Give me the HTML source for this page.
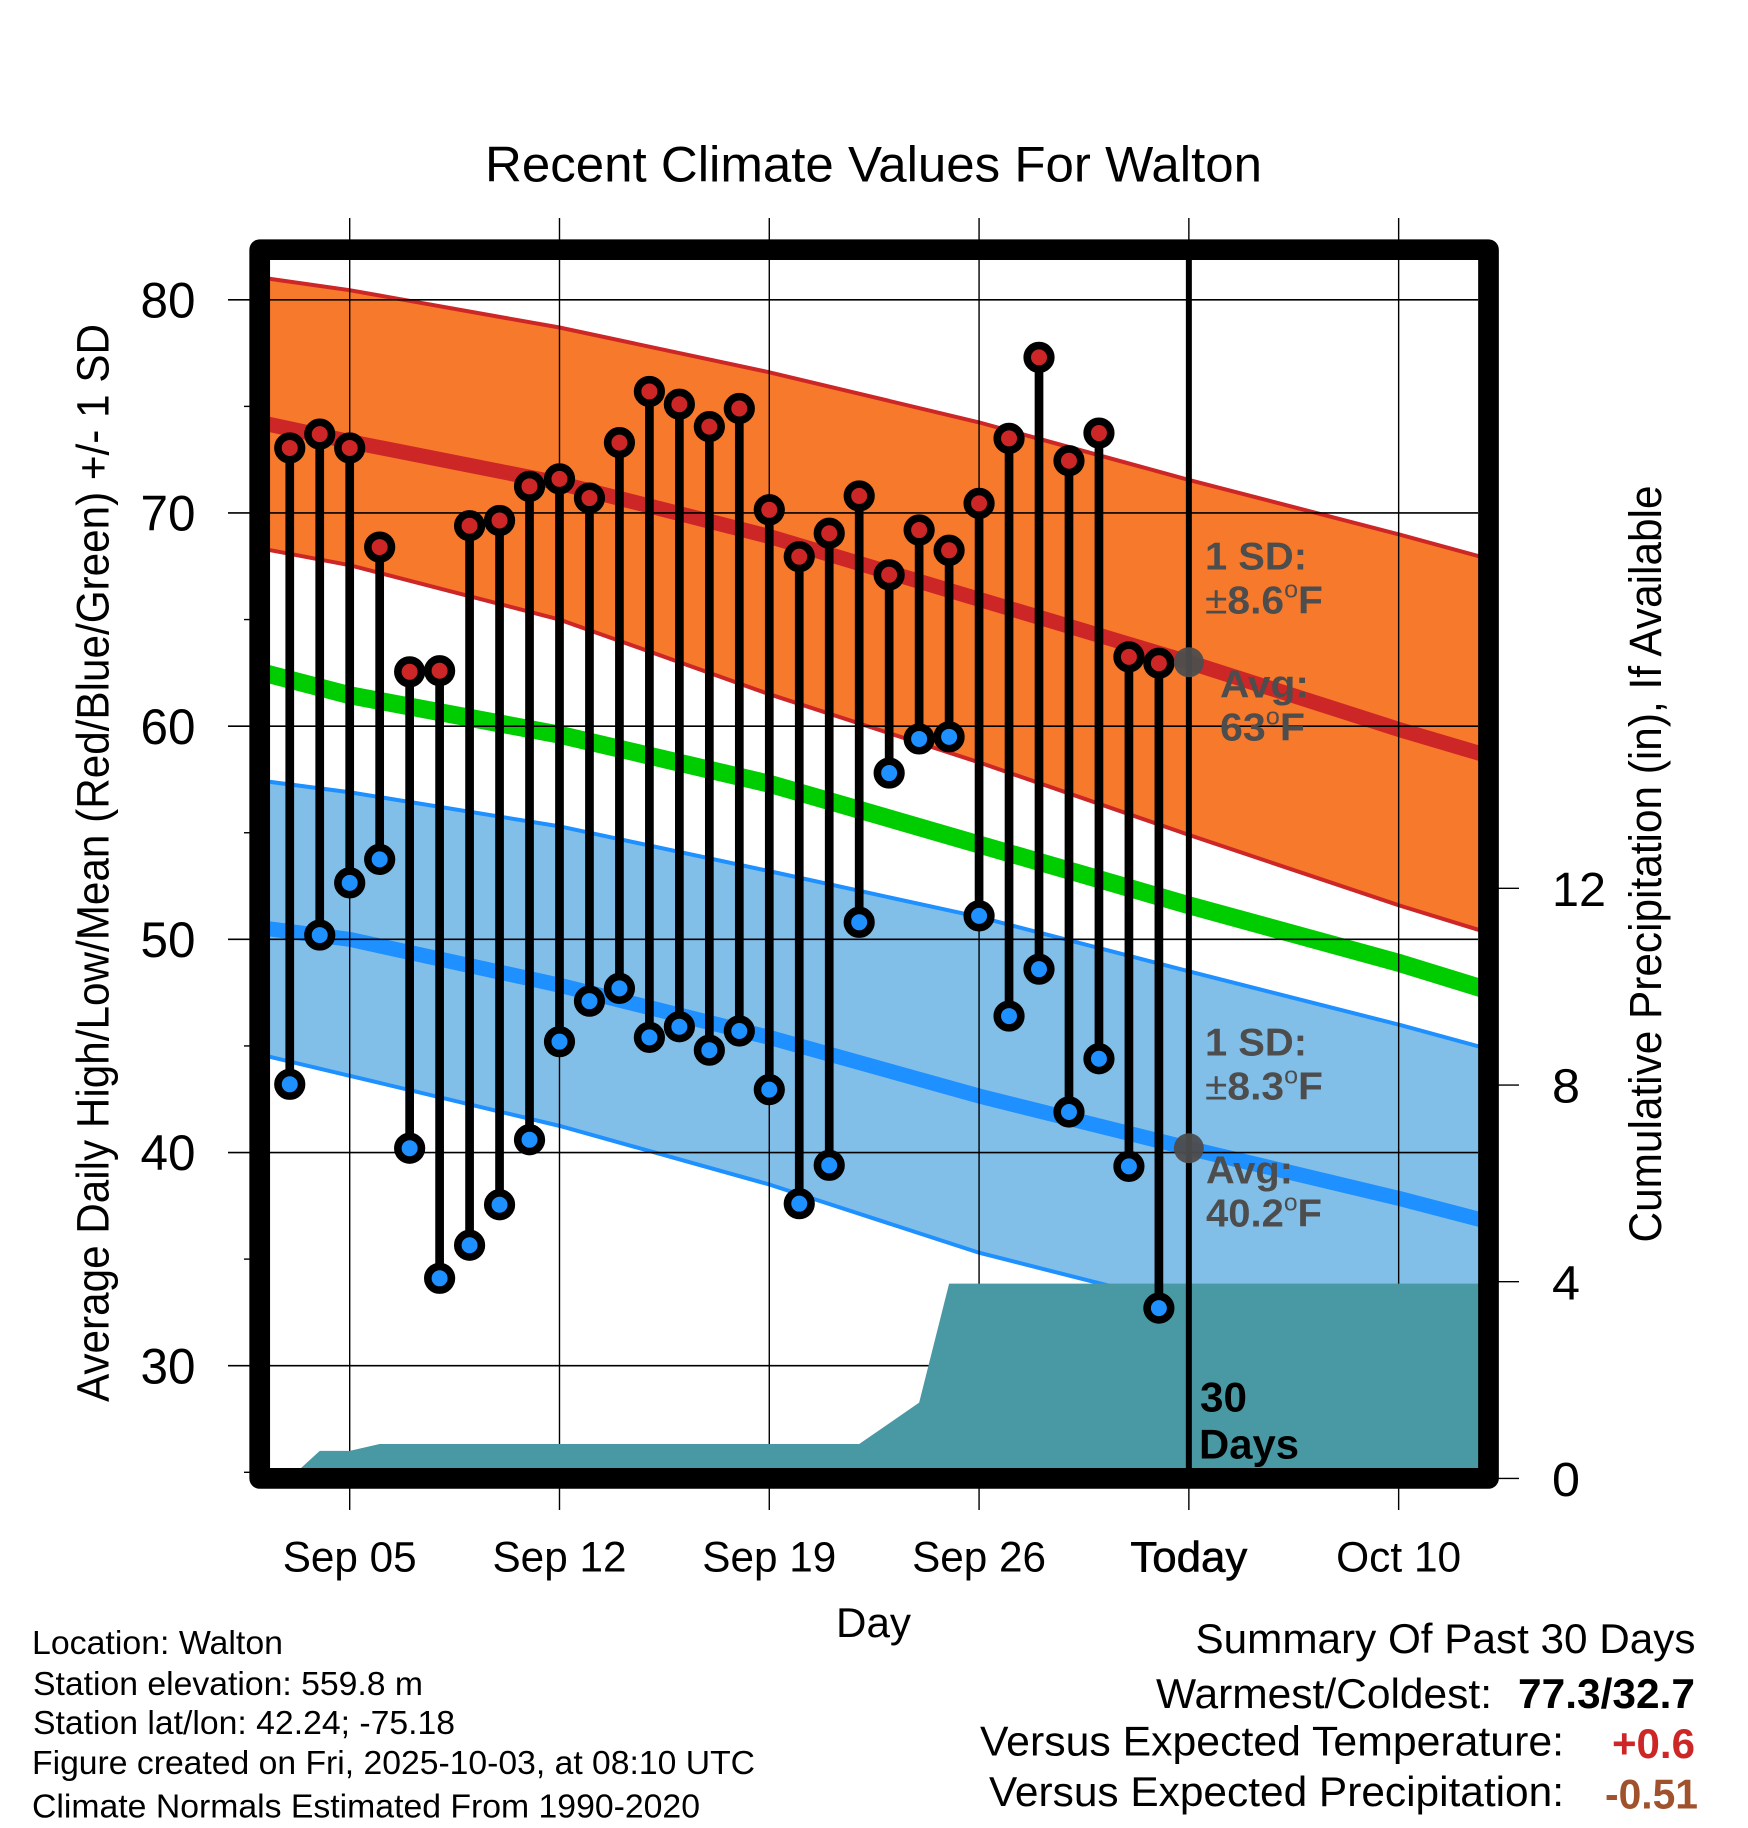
<!DOCTYPE html>
<html lang="en">
<head>
<meta charset="utf-8">
<title>Recent Climate Values For Walton</title>
<style>
html,body{margin:0;padding:0;background:#fff;}
svg{display:block;}
text{font-family:"Liberation Sans",sans-serif;fill:#000;}
.b{font-weight:bold;}
.note{font-weight:bold;fill:#4d4d4d;font-size:39px;}
</style>
</head>
<body>
<svg id="chart" xmlns="http://www.w3.org/2000/svg" width="1748" height="1828" viewBox="0 0 1748 1828">
  <defs><clipPath id="plot-clip"><rect x="260" y="250" width="1228" height="1229"/></clipPath></defs>
  <rect x="0" y="0" width="1748" height="1828" fill="#fff"/>
  <g id="bands" clip-path="url(#plot-clip)"></g>
  <g id="grid"></g>
  <g id="precip" clip-path="url(#plot-clip)"></g>
  <g id="stems"></g>
  <g id="points"></g>
  <g id="today"></g>
  <rect x="259.7" y="249.7" width="1228.8" height="1228.7" fill="none" stroke="#000" stroke-width="20.7" stroke-linejoin="round"/>
  <g id="labels"></g>

  <text x="485" y="181.7" font-size="50" textLength="777" lengthAdjust="spacingAndGlyphs">Recent Climate Values For Walton</text>
  <text transform="translate(108.3,1402) rotate(-90)" font-size="45" textLength="1078" lengthAdjust="spacingAndGlyphs">Average Daily High/Low/Mean (Red/Blue/Green) +/- 1 SD</text>
  <text transform="translate(1660.8,1242.5) rotate(-90)" font-size="45" textLength="757" lengthAdjust="spacingAndGlyphs">Cumulative Precipitation (in), If Available</text>
  <text x="836" y="1637" font-size="42" textLength="75" lengthAdjust="spacingAndGlyphs">Day</text>

  <text class="note" x="1205" y="569.5" textLength="102" lengthAdjust="spacingAndGlyphs">1 SD:</text>
  <text class="note" x="1205" y="613.5" textLength="118" lengthAdjust="spacingAndGlyphs"><tspan font-weight="normal">±</tspan>8.6<tspan font-size="24" font-weight="normal" dy="-16">o</tspan><tspan dy="16">F</tspan></text>
  <text class="note" x="1220" y="697.7" textLength="89" lengthAdjust="spacingAndGlyphs">Avg:</text>
  <text class="note" x="1220" y="740.6" textLength="85" lengthAdjust="spacingAndGlyphs">63<tspan font-size="24" font-weight="normal" dy="-16">o</tspan><tspan dy="16">F</tspan></text>
  <text class="note" x="1205" y="1055.7" textLength="102" lengthAdjust="spacingAndGlyphs">1 SD:</text>
  <text class="note" x="1205" y="1099.3" textLength="118" lengthAdjust="spacingAndGlyphs"><tspan font-weight="normal">±</tspan>8.3<tspan font-size="24" font-weight="normal" dy="-16">o</tspan><tspan dy="16">F</tspan></text>
  <text class="note" x="1206" y="1183.3" textLength="87" lengthAdjust="spacingAndGlyphs">Avg:</text>
  <text class="note" x="1206" y="1226.7" textLength="116" lengthAdjust="spacingAndGlyphs">40.2<tspan font-size="24" font-weight="normal" dy="-16">o</tspan><tspan dy="16">F</tspan></text>
  <text class="b" x="1200" y="1411.7" font-size="42" textLength="47" lengthAdjust="spacingAndGlyphs">30</text>
  <text class="b" x="1199" y="1458.3" font-size="42" textLength="100" lengthAdjust="spacingAndGlyphs">Days</text>

  <text x="32" y="1654" font-size="33" textLength="251" lengthAdjust="spacingAndGlyphs">Location: Walton</text>
  <text x="33" y="1695" font-size="33" textLength="390" lengthAdjust="spacingAndGlyphs">Station elevation: 559.8 m</text>
  <text x="33" y="1734" font-size="33" textLength="422" lengthAdjust="spacingAndGlyphs">Station lat/lon: 42.24; -75.18</text>
  <text x="32" y="1774" font-size="33" textLength="723" lengthAdjust="spacingAndGlyphs">Figure created on Fri, 2025-10-03, at 08:10 UTC</text>
  <text x="32" y="1817.7" font-size="33" textLength="668" lengthAdjust="spacingAndGlyphs">Climate Normals Estimated From 1990-2020</text>

  <text x="1195.5" y="1653" font-size="42" textLength="500" lengthAdjust="spacingAndGlyphs">Summary Of Past 30 Days</text>
  <text x="1156" y="1708" font-size="42" textLength="336" lengthAdjust="spacingAndGlyphs">Warmest/Coldest:</text>
  <text class="b" x="1518" y="1708" font-size="42" textLength="177" lengthAdjust="spacingAndGlyphs">77.3/32.7</text>
  <text x="980" y="1755.7" font-size="42" textLength="584" lengthAdjust="spacingAndGlyphs">Versus Expected Temperature:</text>
  <text class="b" x="1612" y="1758" font-size="42" textLength="83" lengthAdjust="spacingAndGlyphs" style="fill:#cd2626">+0.6</text>
  <text x="989" y="1806" font-size="42" textLength="575" lengthAdjust="spacingAndGlyphs">Versus Expected Precipitation:</text>
  <text class="b" x="1605" y="1808.5" font-size="42" textLength="93" lengthAdjust="spacingAndGlyphs" style="fill:#a0522d">-0.51</text>
</svg>
<script>
// Daily observations, Sep 03 .. Oct 02
const dailyHigh = [73.05,73.7,73.05,68.4,62.55,62.6,69.4,69.65,71.25,71.6,70.7,73.3,75.7,75.1,74.05,74.9,70.15,67.95,69.05,70.8,67.1,69.2,68.25,70.45,73.5,77.3,72.45,73.75,63.25,62.95];
const dailyLow = [43.2,50.2,52.65,53.75,40.2,34.1,35.65,37.55,40.6,45.2,47.1,47.7,45.4,45.9,44.8,45.7,42.95,37.6,39.4,50.8,57.8,59.4,59.5,51.1,46.4,48.6,41.9,44.4,39.35,32.7];
const dailyPrecip = [0,0.56,0.56,0.7,0.7,0.7,0.7,0.7,0.7,0.7,0.7,0.7,0.7,0.7,0.7,0.7,0.7,0.7,0.7,0.7,1.12,1.54,3.96,3.96,3.96,3.96,3.96,3.96,3.96,3.96];
const firstDayOffset = -2;
const precipEndOffset = 38;
// Climate normals, sampled at day offsets from Sep 05
const normalDays = [-3,0,7,14,21,28,35,38];
const highUpper = [81.05,80.45,78.7,76.6,74.25,71.55,69.0,67.85];
const highMean = [74.25,73.35,71.4,68.9,65.95,63.0,59.85,58.6];
const highLower = [68.35,67.55,65.0,61.5,58.3,54.9,51.6,50.3];
const meanNormal = [62.55,61.45,59.6,57.3,54.45,51.6,48.9,47.6];
const lowUpper = [57.45,56.9,55.3,53.2,51.05,48.5,46.0,44.85];
const lowMean = [50.55,50.0,47.85,45.4,42.65,40.2,37.85,36.75];
const lowLower = [44.6,43.6,41.25,38.5,35.3,32.8,29.5,28.6];
// Axes
const xTickDays = [0,7,14,21,28,35];
const xTickLabels = ['Sep 05','Sep 12','Sep 19','Sep 26','Today','Oct 10'];
const yMajorTicks = [80,70,60,50,40,30];
const yMinorTicks = [75,65,55,45,35,25];
const precipTicks = [0,4,8,12];
const todayHigh = 63;
const todayLow = 40.2;
const todayOffset = 28;

const NS = 'http://www.w3.org/2000/svg';
const xScale = d => 349.7 + 29.97 * d;
const yScale = v => 299.8 + (80 - v) * 21.318;
const pScale = p => 1478.4 - p * 49.17;

function make(parent, tag, attrs) {
  const el = document.createElementNS(NS, tag);
  for (const k in attrs) el.setAttribute(k, attrs[k]);
  parent.appendChild(el);
  return el;
}
const bands = document.getElementById('bands');
const grid = document.getElementById('grid');
const precip = document.getElementById('precip');
const stems = document.getElementById('stems');
const points = document.getElementById('points');
const today = document.getElementById('today');
const labels = document.getElementById('labels');

function linePts(vals) { return normalDays.map((d, i) => xScale(d) + ',' + yScale(vals[i])).join(' '); }
function bandPts(up, lo) {
  const a = normalDays.map((d, i) => xScale(d) + ',' + yScale(up[i]));
  const b = normalDays.map((d, i) => xScale(d) + ',' + yScale(lo[i])).reverse();
  return a.concat(b).join(' ');
}

let el;
el = make(bands, 'polygon', {points: bandPts(highUpper, highLower), fill: '#f7792c'});


el = make(bands, 'polygon', {points: bandPts(lowUpper, lowLower), fill: '#82bfe8'});



el = make(bands, 'polyline', {points: linePts(highUpper), fill: 'none', stroke: '#cd2626', 'stroke-width': 4});


el = make(bands, 'polyline', {points: linePts(highLower), fill: 'none', stroke: '#cd2626', 'stroke-width': 4});


el = make(bands, 'polyline', {points: linePts(lowUpper), fill: 'none', stroke: '#1e90ff', 'stroke-width': 4});


el = make(bands, 'polyline', {points: linePts(lowLower), fill: 'none', stroke: '#1e90ff', 'stroke-width': 4});


el = make(bands, 'polyline', {points: linePts(highMean), fill: 'none', stroke: '#cd2626', 'stroke-width': 15});


el = make(bands, 'polyline', {points: linePts(meanNormal), fill: 'none', stroke: '#00cd00', 'stroke-width': 18});


el = make(bands, 'polyline', {points: linePts(lowMean), fill: 'none', stroke: '#1e90ff', 'stroke-width': 15});



// Grid & ticks
yMajorTicks.forEach(v => {
  const line = make(grid, 'line', {x1: 228, x2: 1478, y1: yScale(v), y2: yScale(v), stroke: '#000', 'stroke-width': 1.6});
  
  
  const t = make(labels, 'text', {x: 140.5, y: yScale(v) + 17.6, 'font-size': 50, textLength: 55, lengthAdjust: 'spacingAndGlyphs'});
  
  
  t.textContent = String(v);
});
yMinorTicks.forEach(v => {
  const line = make(grid, 'line', {x1: 244, x2: 252, y1: yScale(v), y2: yScale(v), stroke: '#000', 'stroke-width': 1.4});
  
  
});
xTickDays.forEach((d, i) => {
  const line = make(grid, 'line', {x1: xScale(d), x2: xScale(d), y1: 218, y2: 1510, stroke: '#000', 'stroke-width': 1.4});
  
  
  const name = xTickLabels[i];
  const isToday = name === 'Today';
  const w = isToday ? 117 : (name.charAt(0) === 'O' ? 125 : 134);
  const t = make(labels, 'text', {x: xScale(d) - w / 2, y: 1571.7, 'font-size': 43, textLength: w, lengthAdjust: 'spacingAndGlyphs'});
  if (isToday) { t.setAttribute('stroke', '#000'); t.setAttribute('stroke-width', '0.6'); }
  
  
  t.textContent = name;
});
precipTicks.forEach(p => {
  const line = make(grid, 'line', {x1: 1496, x2: 1519, y1: pScale(p), y2: pScale(p), stroke: '#000', 'stroke-width': 1.4});
  
  
  const s = String(p);
  const w = s.length > 1 ? 54 : 28;
  const t = make(labels, 'text', {x: 1552, y: pScale(p) + 17.6, 'font-size': 48, textLength: w, lengthAdjust: 'spacingAndGlyphs'});
  
  
  t.textContent = s;
});

// Precipitation area
const precipPts = dailyPrecip.map((p, i) => xScale(firstDayOffset + i) + ',' + pScale(p));
precipPts.push(xScale(precipEndOffset) + ',' + pScale(dailyPrecip[dailyPrecip.length - 1]));
precipPts.push(xScale(precipEndOffset) + ',' + pScale(0));
precipPts.push(xScale(firstDayOffset) + ',' + pScale(0));
el = make(precip, 'polygon', {points: precipPts.join(' '), fill: '#4899a4'});



// Daily stems and points
dailyHigh.forEach((h, i) => {
  const x = xScale(firstDayOffset + i);
  const stem = make(stems, 'line', {x1: x, x2: x, y1: yScale(h), y2: yScale(dailyLow[i]), stroke: '#000', 'stroke-width': 8.7});
  
  
  const hi = make(points, 'circle', {cx: x, cy: yScale(h), r: 11.8, fill: '#cd2626', stroke: '#000', 'stroke-width': 7.6});
  
  
  const lo = make(points, 'circle', {cx: x, cy: yScale(dailyLow[i]), r: 11.8, fill: '#1e90ff', stroke: '#000', 'stroke-width': 7.6});
  
  
});

// Today marker
el = make(today, 'line', {x1: xScale(todayOffset), x2: xScale(todayOffset), y1: 255, y2: 1475, stroke: '#000', 'stroke-width': 6});


el = make(today, 'circle', {cx: xScale(todayOffset), cy: yScale(todayHigh), r: 15, fill: '#4d4d4d', 'fill-opacity': 0.95});


el = make(today, 'circle', {cx: xScale(todayOffset), cy: yScale(todayLow), r: 15, fill: '#4d4d4d', 'fill-opacity': 0.95});


</script>
</body>
</html>
